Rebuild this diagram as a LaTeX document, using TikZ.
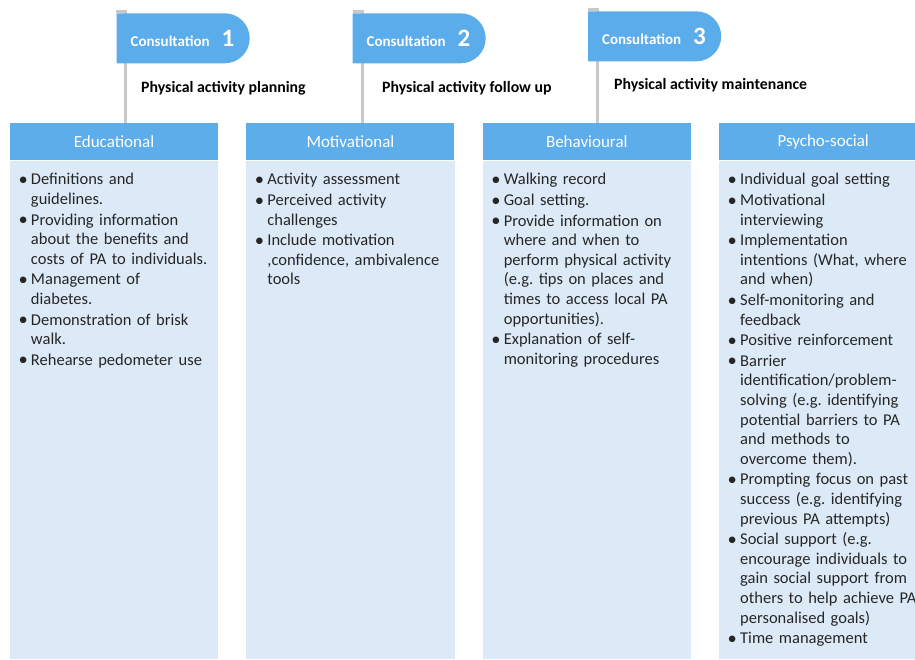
\documentclass[tikz,border=0pt]{standalone}
\usepackage{fontspec}
\setmainfont{Carlito}
\usetikzlibrary{positioning,shapes.misc,backgrounds}
\definecolor{tabblue}{HTML}{5AACEA}
\definecolor{headblue}{HTML}{5CADEA}
\definecolor{paleblue}{HTML}{DCEAF7}
\definecolor{poleg}{HTML}{C8C8C8}
\definecolor{inkg}{HTML}{262626}
\frenchspacing

\newcommand{\pitem}[1]{\par\noindent\hangindent=12.5pt\hangafter=1\makebox[12.5pt][l]{\raisebox{-0.6pt}{\fontsize{18.5}{19}\selectfont\textbullet}}#1\par\vspace{1pt}}

\tikzset{
  tab/.style={rounded rectangle, rounded rectangle west arc=none, fill=tabblue, text=white,
    font=\bfseries\fontsize{15}{16}\selectfont, minimum width=133pt, minimum height=50pt, inner sep=0pt},
  head/.style={fill=headblue, text=white, font=\fontsize{17}{19}\selectfont,
    minimum width=208pt, minimum height=37.5pt, inner sep=0pt},
  phase/.style={anchor=west, inner sep=0pt, font=\bfseries\fontsize{15.8}{17}\selectfont},
  list/.style={anchor=north west, text width=230pt, inner sep=0pt, align=left, text=inkg,
    font=\fontsize{16.5}{19.6}\selectfont},
  pole/.style={draw=poleg, line width=3pt},
}

\begin{document}
\begin{tikzpicture}[x=1pt,y=-1pt]
\useasboundingbox (0,0) rectangle (915,659);
\clip (0,0) rectangle (915,659);
\coordinate (bot) at (0,659);

% column headers
\node[head] (edu) at (114,141.7) {Educational};
\node[head, right=28pt of edu] (mot) {Motivational};
\node[head, right=28pt of mot] (beh) {Behavioural};
\node[head, right=28pt of beh] (psy) {Psycho-social};

% consultations
\node[tab] (c1) at (182.5,38.3) {Consultation\hspace{12pt}{\fontsize{25}{26}\selectfont 1}};
\node[tab] (c2) at (418.5,38.3) {Consultation\hspace{12pt}{\fontsize{25}{26}\selectfont 2}};
\node[tab] (c3) at (654,36.3) {Consultation\hspace{12pt}{\fontsize{25}{26}\selectfont 3}};

\node[phase] (p1) at (141,88) {Physical activity planning};
\node[phase] (p2) at (382,88) {Physical activity follow up};
\node[phase] (p3) at (614,85) {Physical activity maintenance};

% lists
\node[list] (edul) at ([xshift=8.5pt,yshift=-4.5pt]edu.south west) {%
\pitem{Definitions and\newline guidelines.}
\pitem{Providing information\newline about the benefits and\newline costs of PA to individuals.}
\pitem{Management of\newline diabetes.}
\pitem{Demonstration of brisk\newline walk.}
\pitem{Rehearse pedometer use}};

\node[list] (motl) at ([xshift=8.5pt,yshift=-4.5pt]mot.south west) {%
\pitem{Activity assessment}
\pitem{Perceived activity\newline challenges}
\pitem{Include motivation\newline ,confidence, ambivalence\newline tools}};

\node[list] (behl) at ([xshift=8.5pt,yshift=-4.5pt]beh.south west) {%
\pitem{Walking record}
\pitem{Goal setting.}
\pitem{Provide information on\newline where and when to\newline perform physical activity\newline (e.g. tips on places and\newline times to access local PA\newline opportunities).}
\pitem{Explanation of self-\newline monitoring procedures}};

\node[list] (psyl) at ([xshift=8.5pt,yshift=-4.5pt]psy.south west) {%
\pitem{Individual goal setting}
\pitem{Motivational\newline interviewing}
\pitem{Implementation\newline intentions (What, where\newline and when)}
\pitem{Self-monitoring and\newline feedback}
\pitem{Positive reinforcement}
\pitem{Barrier\newline identification/problem-\newline solving (e.g. identifying\newline potential barriers to PA\newline and methods to\newline overcome them).}
\pitem{Prompting focus on past\newline success (e.g. identifying\newline previous PA attempts)}
\pitem{Social support (e.g.\newline encourage individuals to\newline gain social support from\newline others to help achieve PA\newline personalised goals)}
\pitem{Time management}};

\begin{scope}[on background layer]
\foreach \c in {edu,mot,beh,psy}
  \fill[paleblue] (\c.south west) rectangle (\c.south east |- bot);
\foreach \t/\h in {c1/edu,c2/mot,c3/beh}{
  \fill[poleg] (\t.north west) rectangle ([xshift=11pt,yshift=3pt]\t.north west);
  \draw[pole] ([xshift=9.5pt,yshift=3pt]\t.north west) -- ([xshift=9.5pt]\t.north west |- \h.north);
}
\end{scope}
\end{tikzpicture}
\end{document}
